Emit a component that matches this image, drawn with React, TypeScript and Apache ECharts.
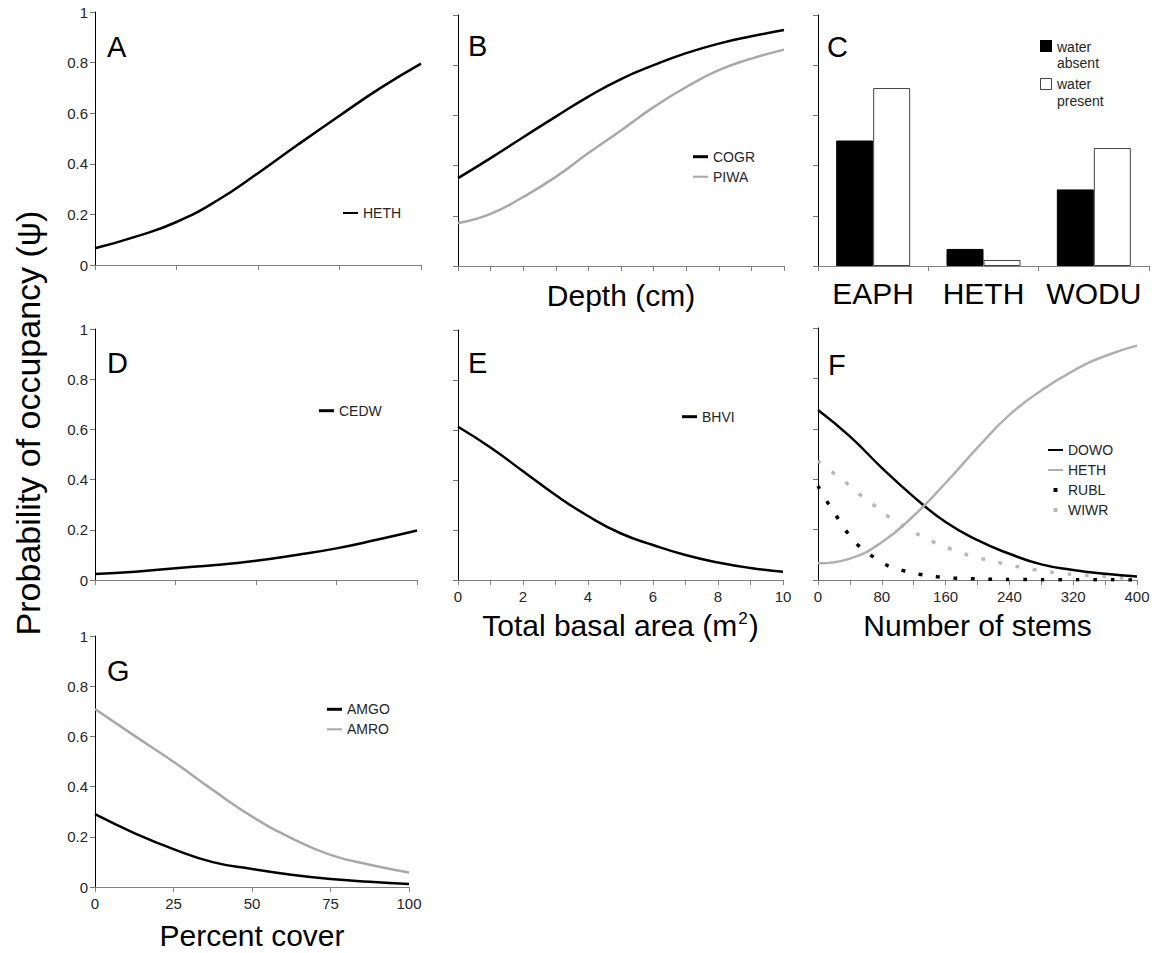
import React, { useEffect, useRef } from 'react';
import * as echarts from 'echarts';

const FONT = '"Liberation Sans", Arial, Helvetica, sans-serif';

// Panel A
const aX = [0, 0.5, 1, 1.5, 2, 2.5, 3, 3.5, 4];
const aHETH = [0.066, 0.112, 0.17, 0.255, 0.363, 0.478, 0.59, 0.699, 0.796];
// Panel B
const bX = [0, 1, 2, 3, 4, 5, 6, 7, 8, 9, 10];
const bCOGR = [0.35, 0.43, 0.513, 0.595, 0.675, 0.745, 0.8, 0.848, 0.886, 0.915, 0.94];
const bPIWA = [0.171, 0.208, 0.275, 0.355, 0.45, 0.54, 0.633, 0.713, 0.78, 0.826, 0.862];
// Panel C
const cCategories = ['EAPH', 'HETH', 'WODU'];
const cWaterAbsent = [0.5, 0.068, 0.305];
const cWaterPresent = [0.709, 0.024, 0.47];
// Panel D
const dX = [0, 0.5, 1, 1.5, 2, 2.5, 3, 3.5, 4];
const dCEDW = [0.024, 0.033, 0.047, 0.06, 0.077, 0.1, 0.126, 0.16, 0.197];
// Panel E
const eX = [0, 1, 2, 3, 4, 5, 6, 7, 8, 9, 10];
const eBHVI = [0.613, 0.53, 0.435, 0.34, 0.256, 0.187, 0.14, 0.1, 0.07, 0.048, 0.033];
// Panel F
const fX = [0, 40, 80, 120, 160, 200, 240, 280, 320, 360, 400];
const fDOWO = [0.675, 0.57, 0.445, 0.33, 0.23, 0.158, 0.104, 0.062, 0.04, 0.025, 0.014];
const fHETH = [0.066, 0.085, 0.15, 0.255, 0.385, 0.525, 0.655, 0.752, 0.83, 0.889, 0.93];
const fRUBLx = [0, 11, 23, 35, 49, 66, 84, 106, 127, 149, 170, 192, 214, 258, 302, 346, 400];
const fRUBLy = [0.373, 0.313, 0.254, 0.196, 0.142, 0.099, 0.062, 0.038, 0.023, 0.013, 0.008, 0.005, 0.003, 0.002, 0.001, 0.001, 0.0];
const fWIWRx = [0, 18, 36, 52, 70, 87, 123, 144, 164, 184, 205, 227, 248, 270, 290, 312, 334, 356, 378, 400];
const fWIWRy = [0.473, 0.428, 0.384, 0.34, 0.297, 0.254, 0.185, 0.152, 0.126, 0.103, 0.085, 0.069, 0.054, 0.042, 0.032, 0.024, 0.019, 0.015, 0.009, 0.006];
// Panel G
const gX = [0, 12.5, 25, 37.5, 50, 62.5, 75, 87.5, 100];
const gAMGO = [0.29, 0.215, 0.151, 0.099, 0.072, 0.049, 0.032, 0.021, 0.012];
const gAMRO = [0.709, 0.603, 0.499, 0.387, 0.281, 0.195, 0.128, 0.089, 0.058];

const panelLetters = ['A', 'B', 'C', 'D', 'E', 'F', 'G'];

const zip = (xs: number[], ys: number[]) => xs.map((x, i) => [x, ys[i]]);

const BLACK = '#000000';
const GRAY = '#a8a8a8';
const TICK_COLOR = '#262626';

const legendNames: Record<string, string> = {
  HETH_A: 'HETH',
  COGR: 'COGR',
  PIWA: 'PIWA',
  CEDW: 'CEDW',
  BHVI: 'BHVI',
  DOWO: 'DOWO',
  HETH_F: 'HETH',
  RUBL: 'RUBL',
  WIWR: 'WIWR',
  AMGO: 'AMGO',
  AMRO: 'AMRO',
};

const ICON_THICK = 'path://M0,0M15,4M0,0.5h15v3h-15z';
const ICON_THIN = 'path://M0,0M15,4M0,1h15v2h-15z';
const ICON_DOT = 'path://M0,0M15,4M5.5,0h4v4h-4z';

function yAxis(gridIndex: number, showLabels: boolean) {
  return {
    type: 'value',
    gridIndex,
    min: 0,
    max: 1,
    interval: 0.2,
    axisLine: { show: true, lineStyle: { color: '#000', width: 1 } },
    axisTick: { show: true, inside: false, length: 5, lineStyle: { color: '#777' } },
    axisLabel: { show: showLabels, fontSize: 15, color: TICK_COLOR, margin: 7, fontFamily: FONT },
    splitLine: { show: false },
  };
}

function xValueAxis(gridIndex: number, max: number, interval: number, extra: any = {}) {
  return {
    type: 'value',
    gridIndex,
    min: 0,
    max,
    interval,
    position: 'bottom',
    axisLine: { show: true, onZero: false, lineStyle: { color: '#808080', width: 1 } },
    axisTick: { show: true, inside: false, length: 5, lineStyle: { color: '#808080' } },
    axisLabel: { show: false, fontSize: 15, color: TICK_COLOR, margin: 9, fontFamily: FONT },
    splitLine: { show: false },
    nameLocation: 'middle',
    nameTextStyle: { fontSize: 30, color: '#000', fontFamily: FONT },
    ...extra,
  };
}

function lineSeries(name: string, axis: number, data: number[][], color: string, width: number, extra: any = {}) {
  return {
    type: 'line',
    name,
    xAxisIndex: axis,
    yAxisIndex: axis,
    data,
    smooth: true,
    symbol: 'none',
    color,
    lineStyle: { color, width },
    ...extra,
  };
}

function legend(left: number, top: number, items: { name: string; icon: string; color: string }[]) {
  return {
    left,
    top,
    orient: 'vertical',
    padding: 0,
    itemGap: 0,
    itemWidth: 15,
    itemHeight: 4,
    selectedMode: false,
    formatter: (n: string) => legendNames[n] || n,
    textStyle: { fontSize: 14, color: TICK_COLOR, fontFamily: FONT, lineHeight: 20 },
    data: items.map((it) => ({ name: it.name, icon: it.icon, itemStyle: { color: it.color } })),
  };
}

const grids = [
  { left: 95, top: 12, width: 326, height: 253 },
  { left: 458, top: 15, width: 326, height: 251 },
  { left: 818, top: 15, width: 331, height: 251 },
  { left: 95, top: 329, width: 322, height: 251 },
  { left: 458, top: 330, width: 325, height: 250 },
  { left: 818, top: 328, width: 319, height: 252 },
  { left: 95, top: 636, width: 314, height: 251 },
];

const letterPos = [
  [107, 46.5],
  [468, 45.5],
  [827, 46.5],
  [107, 362.5],
  [468, 362.5],
  [828, 364.5],
  [107, 671],
];

export default function App() {
  const ref = useRef<HTMLDivElement>(null);

  useEffect(() => {
    if (!ref.current) return;
    const chart = echarts.init(ref.current, null, { renderer: 'svg' });

    const option: any = {
      animation: false,
      backgroundColor: '#ffffff',
      textStyle: { fontFamily: FONT },
      grid: grids.map((g) => ({ ...g, containLabel: false, outerBoundsMode: 'none' })),
      yAxis: grids.map((_, i) => yAxis(i, i === 0 || i === 3 || i === 6)),
      xAxis: [
        xValueAxis(0, 4, 1),
        xValueAxis(1, 10, 1, { name: 'Depth (cm)', nameGap: 14 }),
        {
          type: 'category',
          gridIndex: 2,
          data: cCategories,
          position: 'bottom',
          boundaryGap: true,
          axisLine: { show: true, lineStyle: { color: '#808080', width: 1 } },
          axisTick: { show: true, inside: false, length: 5, alignWithLabel: false, lineStyle: { color: '#808080' } },
          axisLabel: { show: true, fontSize: 30, color: '#000', margin: 12, fontFamily: FONT, interval: 0 },
          splitLine: { show: false },
        },
        xValueAxis(3, 4, 1),
        xValueAxis(4, 10, 1, {
          name: 'Total basal area (m{sup|2})',
          nameGap: 30,
          nameTextStyle: {
            fontSize: 30,
            color: '#000',
            fontFamily: FONT,
            rich: { sup: { fontSize: 17, color: '#000', fontFamily: FONT, verticalAlign: 'top', padding: [0, 1, 0, 1] } },
          },
          axisLabel: {
            show: true,
            fontSize: 15,
            color: TICK_COLOR,
            margin: 9,
            fontFamily: FONT,
            formatter: (v: number) => (v % 2 === 0 ? String(v) : ''),
          },
        }),
        xValueAxis(5, 400, 40, {
          name: 'Number of stems',
          nameGap: 30,
          axisLabel: {
            show: true,
            fontSize: 15,
            color: TICK_COLOR,
            margin: 9,
            fontFamily: FONT,
            formatter: (v: number) => (v % 80 === 0 ? String(v) : ''),
          },
        }),
        xValueAxis(6, 100, 25, {
          name: 'Percent cover',
          nameGap: 33,
          axisLabel: { show: true, fontSize: 15, color: TICK_COLOR, margin: 9, fontFamily: FONT },
        }),
      ],
      legend: [
        legend(343, 203, [{ name: 'HETH_A', icon: ICON_THIN, color: BLACK }]),
        legend(693, 146.7, [
          { name: 'COGR', icon: ICON_THICK, color: BLACK },
          { name: 'PIWA', icon: ICON_THIN, color: GRAY },
        ]),
        legend(319, 400.7, [{ name: 'CEDW', icon: ICON_THICK, color: BLACK }]),
        legend(682, 406.7, [{ name: 'BHVI', icon: ICON_THICK, color: BLACK }]),
        legend(1048, 440, [
          { name: 'DOWO', icon: ICON_THIN, color: BLACK },
          { name: 'HETH_F', icon: ICON_THIN, color: '#b0b0b0' },
          { name: 'RUBL', icon: ICON_DOT, color: BLACK },
          { name: 'WIWR', icon: ICON_DOT, color: '#b8b8b8' },
        ]),
        legend(327, 699.3, [
          { name: 'AMGO', icon: ICON_THICK, color: BLACK },
          { name: 'AMRO', icon: ICON_THIN, color: GRAY },
        ]),
      ],
      series: [
        lineSeries('HETH_A', 0, zip(aX, aHETH), BLACK, 2.5),
        lineSeries('COGR', 1, zip(bX, bCOGR), BLACK, 2.5),
        lineSeries('PIWA', 1, zip(bX, bPIWA), GRAY, 2.5),
        {
          type: 'bar',
          name: 'water absent',
          xAxisIndex: 2,
          yAxisIndex: 2,
          data: cWaterAbsent,
          barWidth: 37,
          barGap: '0%',
          itemStyle: { color: '#000', borderColor: '#000', borderWidth: 1 },
        },
        {
          type: 'bar',
          name: 'water present',
          xAxisIndex: 2,
          yAxisIndex: 2,
          data: cWaterPresent,
          barWidth: 37,
          barGap: '0%',
          itemStyle: { color: '#fff', borderColor: '#444', borderWidth: 1 },
        },
        lineSeries('CEDW', 3, zip(dX, dCEDW), BLACK, 2.5),
        lineSeries('BHVI', 4, zip(eX, eBHVI), BLACK, 2.5),
        lineSeries('RUBL', 5, zip(fRUBLx, fRUBLy), BLACK, 3.5, {
          lineStyle: { color: BLACK, width: 3.5, type: [3.5, 14], cap: 'butt' },
        }),
        lineSeries('WIWR', 5, zip(fWIWRx, fWIWRy), '#b8b8b8', 3.5, {
          lineStyle: { color: '#b8b8b8', width: 3.5, type: [3.5, 14], cap: 'butt' },
        }),
        lineSeries('DOWO', 5, zip(fX, fDOWO), BLACK, 2.5),
        lineSeries('HETH_F', 5, zip(fX, fHETH), '#b0b0b0', 2.5),
        lineSeries('AMGO', 6, zip(gX, gAMGO), BLACK, 2.5),
        lineSeries('AMRO', 6, zip(gX, gAMRO), GRAY, 2.5),
      ],
      graphic: [
        ...panelLetters.map((l, i) => ({
          type: 'text',
          x: letterPos[i][0],
          y: letterPos[i][1],
          style: { text: l, fontSize: 29, fontFamily: FONT, fill: '#000', align: 'left', verticalAlign: 'middle' },
        })),
        {
          type: 'text',
          x: 28,
          y: 423,
          rotation: Math.PI / 2,
          style: {
            text: 'Probability of occupancy (ψ)',
            fontSize: 34,
            fontFamily: FONT,
            fill: '#000',
            align: 'center',
            verticalAlign: 'middle',
          },
        },
        { type: 'rect', shape: { x: 1040, y: 40, width: 12, height: 12 }, style: { fill: '#000' } },
        {
          type: 'text',
          x: 1057,
          y: 38.5,
          style: { text: 'water\nabsent', fontSize: 14, lineHeight: 16.5, fontFamily: FONT, fill: TICK_COLOR, align: 'left', verticalAlign: 'top' },
        },
        { type: 'rect', shape: { x: 1040.5, y: 78.5, width: 11, height: 11 }, style: { fill: '#fff', stroke: '#444', lineWidth: 1 } },
        {
          type: 'text',
          x: 1057,
          y: 76,
          style: { text: 'water\npresent', fontSize: 14, lineHeight: 16.5, fontFamily: FONT, fill: TICK_COLOR, align: 'left', verticalAlign: 'top' },
        },
      ],
    };

    chart.setOption(option);
    return () => {
      chart.dispose();
    };
  }, []);

  return <div ref={ref} style={{ position: 'absolute', left: 0, top: 0, width: 1161, height: 953 }} />;
}
